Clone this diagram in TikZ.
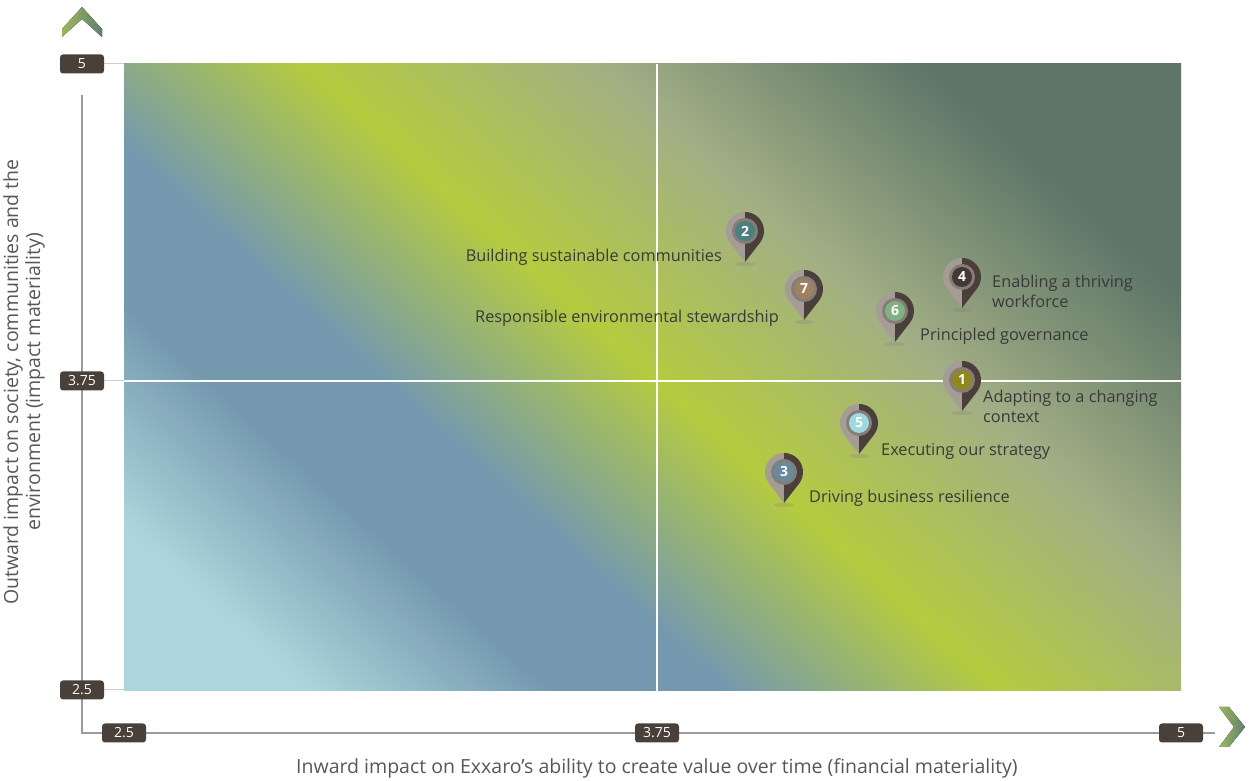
\documentclass[tikz,border=0pt]{standalone}
\usepackage{fontspec}
\setmainfont{Open Sans}
\usetikzlibrary{calc}
\definecolor{labelbox}{HTML}{4A403A}
\definecolor{pinlight}{HTML}{A59C96}
\definecolor{pindark}{HTML}{4A3F3A}
\definecolor{axisgrey}{HTML}{9A9A9A}
\definecolor{textgrey}{HTML}{3A3A3A}
\definecolor{shA}{HTML}{ADD6DC}
\definecolor{shB}{HTML}{7499AF}
\definecolor{shC}{HTML}{B5CB3F}
\definecolor{shD}{HTML}{A2AF85}
\definecolor{shE}{HTML}{5E7568}
\definecolor{chevA}{HTML}{9CBA5A}
\definecolor{chevB}{HTML}{5F8070}
\pgfdeclarehorizontalshading{matshade}{100bp}{color(0bp)=(shA);
  color(22bp)=(shA); color(32bp)=(shB); color(39bp)=(shB); color(50bp)=(shC);
  color(62bp)=(shD); color(75bp)=(shE); color(100bp)=(shE)}
\newcommand{\matpin}[3]{%
  \fill[gray,opacity=.25] ($(#1)+(0,-33)$) ellipse (10 and 2);
  \fill[pinlight] ($(#1)+(0,-31)$) -- ($(#1)+(-142:19)$) arc[start angle=-142, end angle=-270, radius=19] -- cycle;
  \fill[pindark] ($(#1)+(0,-31)$) -- ($(#1)+(-38:19)$) arc[start angle=-38, end angle=90, radius=19] -- cycle;
  \fill[pinlight!80!black] (#1) circle (13);
  \node[circle, fill=#2, inner sep=0pt, minimum size=20pt, text=white, font=\bfseries\fontsize{14}{14}\selectfont] at (#1) {#3};
}
\begin{document}
\begin{tikzpicture}[x=1pt,y=1pt,
    tick/.style={fill=labelbox, text=white, rounded corners=3pt, inner sep=0pt, minimum width=44pt, minimum height=19pt, font=\fontsize{14}{14}\selectfont},
    issue/.style={text=textgrey, font=\fontsize{16.3}{20}\selectfont, align=left, inner sep=0pt},
    axistitle/.style={text=textgrey!85, font=\fontsize{19.5}{22}\selectfont, align=center, inner sep=0pt},
    chevron/.style={left color=chevA, right color=chevB}]
  \useasboundingbox (0,0) rectangle (1250,781);
  % plot area
  \shade[shading=matshade, shading angle=48] (124,90) rectangle (1181,717);
  \draw[white, line width=1.5pt] (657,90) -- (657,717) (124,400) -- (1181,400);
  % axes
  \draw[axisgrey, line width=1.2pt] (82,686) -- (82,48) -- (1215,48);
  \draw[axisgrey!50, line width=1pt] (82,717) -- (124,717) (82,400) -- (124,400) (82,91) -- (124,91);
  \node[tick] (y5) at (82,717) {\selectfont 5};
  \node[tick] (y375) at (82,400) {\selectfont 3.75};
  \node[tick] (y25) at (82,91) {\selectfont 2.5};
  \node[tick] (x25) at (124,48) {\selectfont 2.5};
  \node[tick] (x375) at (657,48) {\selectfont 3.75};
  \node[tick] (x5) at (1181,48) {\selectfont 5};
  \fill[chevron] (62,752) -- (82,774) -- (102,752) -- (102,744) -- (82,762) -- (62,744) -- cycle;
  \fill[chevron] (1219,74) -- (1229,74) -- (1245,54) -- (1229,34) -- (1219,34) -- (1234,54) -- cycle;
  % issues
  \coordinate (p1) at (962,401);
  \coordinate (p2) at (745,550);
  \coordinate (p3) at (784,309);
  \coordinate (p4) at (962,504);
  \coordinate (p5) at (859,358);
  \coordinate (p6) at (895,470);
  \coordinate (p7) at (804,492);
  \matpin{p1}{olive!80!gray}{1}
  \matpin{p2}{teal!40!gray}{2}
  \matpin{p3}{shB!90!black}{3}
  \matpin{p4}{pindark!90!black}{4}
  \matpin{p5}{shA!90!cyan}{5}
  \matpin{p6}{green!25!gray!80!white}{6}
  \matpin{p7}{brown!50!gray}{7}
  \node[issue, anchor=east] (t2) at (722,524) {Building sustainable communities};
  \node[issue, anchor=east] (t7) at (779,463) {Responsible environmental stewardship};
  \node[issue, anchor=west] (t4) at (992,490) {Enabling a thriving\\workforce};
  \node[issue, anchor=west] (t6) at (920,445) {Principled governance};
  \node[issue, anchor=west] (t1) at (983,375) {Adapting to a changing\\context};
  \node[issue, anchor=west] (t5) at (881,330) {Executing our strategy};
  \node[issue, anchor=west] (t3) at (809,283) {Driving business resilience};
  % axis titles
  \node[axistitle] (xt) at (657,13) {Inward impact on Exxaro’s ability to create value over time (financial materiality)};
  \node[axistitle, rotate=90] (yt) at (24,399) {Outward impact on society, communities and the\\environment (impact materiality)};
\end{tikzpicture}
\end{document}
